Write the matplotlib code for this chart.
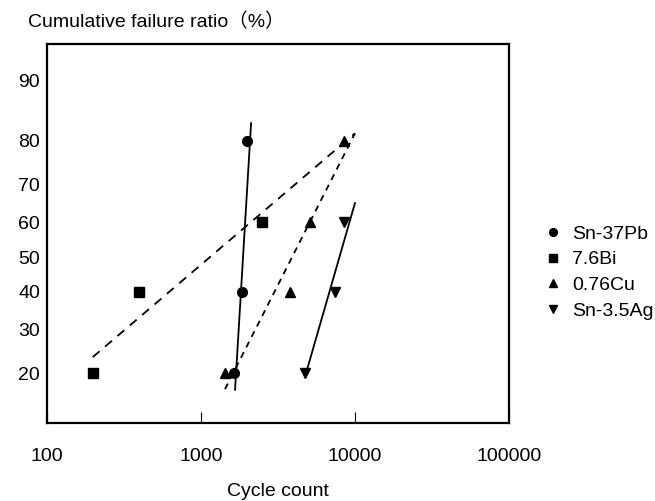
import numpy as np
import matplotlib
matplotlib.use("Agg")
import matplotlib.pyplot as plt
from statistics import NormalDist

plt.rcParams['font.family'] = ['Liberation Sans', 'Noto Sans CJK JP', 'DejaVu Sans']

# ---- data ----
pb_x = [1645, 1845, 1990]
pb_y = [20, 40, 80]
bi_x = [198, 396, 2490]
bi_y = [20, 40, 60]
cu_x = [1430, 3790, 5100, 8500]
cu_y = [20, 40, 60, 80]
ag_x = [4730, 7410, 8500]
ag_y = [20, 40, 60]

# fitted lines (endpoints)
pb_fit_x = [1664, 2115]
pb_fit_y = [16.8, 83.4]
bi_fit_x = [198, 10000]
bi_fit_y = [23.4, 81.5]
cu_fit_x = [1432, 10000]
cu_fit_y = [16.9, 81.5]
ag_fit_x = [4730, 10000]
ag_fit_y = [19.2, 65.2]

labels = ["Sn-37Pb", "7.6Bi", "0.76Cu", "Sn-3.5Ag"]
y_ticks = [20, 30, 40, 50, 60, 70, 80, 90]
x_ticks = [100, 1000, 10000, 100000]

nd = NormalDist()


def fwd(p):
    p = np.asarray(p, dtype=float)
    q = np.clip(p / 100.0, 1e-6, 1 - 1e-6)
    return np.array([nd.inv_cdf(v) for v in q.ravel()]).reshape(q.shape)


def inv(z):
    z = np.asarray(z, dtype=float)
    return np.array([nd.cdf(v) * 100 for v in z.ravel()]).reshape(z.shape)


fig = plt.figure(figsize=(6.55, 5.01), dpi=100)
ax = fig.add_axes([0.0718, 0.1557, 0.7052, 0.7563])
ax.set_xscale('log')
ax.set_yscale('function', functions=(fwd, inv))

ms = 7
ax.plot(pb_x, pb_y, 'o', color='black', ms=ms, label=labels[0])
ax.plot(bi_x, bi_y, 's', color='black', ms=ms - 0.5, label=labels[1])
ax.plot(cu_x, cu_y, '^', color='black', ms=ms, label=labels[2])
ax.plot(ag_x, ag_y, 'v', color='black', ms=ms, label=labels[3])

ax.plot(pb_fit_x, pb_fit_y, '-', color='black', lw=1.3)
ax.plot(bi_fit_x, bi_fit_y, color='black', lw=1.3, dashes=(5, 4))
ax.plot(cu_fit_x, cu_fit_y, color='black', lw=1.3, dashes=(3.5, 3))
ax.plot(ag_fit_x, ag_fit_y, '-', color='black', lw=1.3)

ax.set_xlim(100, 100000)
ax.set_ylim(11.45, 93.86)

ax.set_xticks(x_ticks)
ax.set_xticklabels([str(v) for v in x_ticks])
ax.xaxis.set_minor_locator(matplotlib.ticker.NullLocator())
ax.set_yticks(y_ticks)
ax.set_yticklabels([str(v) for v in y_ticks])
ax.yaxis.set_minor_locator(matplotlib.ticker.NullLocator())

ax.tick_params(axis='x', direction='in', length=8, width=0.8, pad=18, labelsize=14)
ax.tick_params(axis='y', length=0, pad=5, labelsize=14)

for s in ax.spines.values():
    s.set_linewidth(1.6)

fig.text(0.043, 0.956, "Cumulative failure ratio（%）", fontsize=14,
         ha='left', va='center')
fig.text(0.4244, 1 - 492 / 501, "Cycle count", fontsize=14,
         ha='center', va='center')

leg = ax.legend(loc='upper left', bbox_to_anchor=(1.065, 0.543), frameon=False,
                fontsize=14, handlelength=0.6, handletextpad=0.7,
                labelspacing=0.42, markerscale=0.8, borderaxespad=0)

fig.savefig("out.png", dpi=100)
